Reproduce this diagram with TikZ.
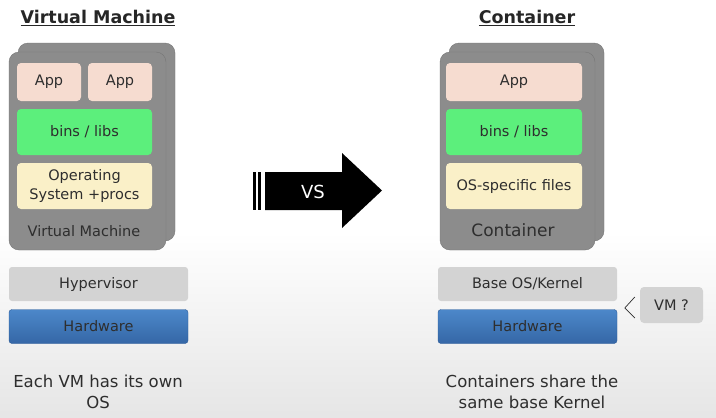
\documentclass[tikz,border=0pt]{standalone}
\usepackage{fontspec}
\setmainfont{DejaVu Sans}
\usetikzlibrary{positioning}
\definecolor{cardgray}{HTML}{8C8C8C}
\definecolor{cardedge}{HTML}{767676}
\definecolor{apppink}{HTML}{F6DCD0}
\definecolor{libgreen}{HTML}{5CEF7C}
\definecolor{osyellow}{HTML}{FAF0C8}
\definecolor{hypgray}{HTML}{D3D3D3}
\definecolor{hwtop}{HTML}{4C88CA}
\definecolor{hwbot}{HTML}{3566A6}
\definecolor{hwedge}{HTML}{2D5C98}
\definecolor{txt}{HTML}{2E2E2E}

\begin{document}
\begin{tikzpicture}[x=1pt, y=-1pt, font=\fontsize{14.5}{17}\selectfont, text=txt]

	\tikzstyle{card}=[rectangle, rounded corners=10pt, draw=cardedge, fill=cardgray, minimum width=157pt, minimum height=198pt, inner sep=0pt]
	\tikzstyle{layer}=[rectangle, rounded corners=4pt, inner sep=0pt, align=center]
	\tikzstyle{app}=[layer, fill=apppink, minimum height=38pt]
	\tikzstyle{libs}=[layer, fill=libgreen, minimum width=135pt, minimum height=46pt]
	\tikzstyle{os}=[layer, fill=osyellow, minimum width=135pt, minimum height=46pt]
	\tikzstyle{base}=[layer, rounded corners=3pt, minimum width=179pt, minimum height=34pt]
	\tikzstyle{hyp}=[base, fill=hypgray]
	\tikzstyle{hw}=[base, draw=hwedge, top color=hwtop, bottom color=hwbot]
	\tikzstyle{title}=[font=\fontsize{17.5}{20}\selectfont\bfseries, text=black!85]
	\tikzstyle{note}=[align=center, font=\fontsize{16.5}{21}\selectfont]

	% fond
	\useasboundingbox (0,0) rectangle (716,418);
	\fill[white] (0,0) rectangle (716,418);
	\shade[top color=white, bottom color=black!10] (0,232) rectangle (716,418);

	% Virtual Machine
	\node[title] (vmtitle) at (98,18) {\underline{Virtual Machine}};
	\node[card] (vmback) at (96.5,142) {};
	\node[card] (vmcard) at (87.5,151) {};
	\node[app, minimum width=64pt] (app1) at (49,82) {App};
	\node[app, minimum width=64pt] (app2) at (120,82) {App};
	\node[libs] (vmlibs) at (84.5,132) {bins / libs};
	\node[os, font=\fontsize{14.5}{18.5}\selectfont] (vmos) at (84.5,186) {Operating\\System +procs};
	\node (vmlabel) at (84,231) {Virtual Machine};
	\node[hyp] (hyper) at (98.5,284) {Hypervisor};
	\node[hw] (vmhw) at (98.5,326.5) {Hardware};
	\node[note] (vmnote) at (98,392) {Each VM has its own\\OS};

	% fleche VS
	\fill[black] (253,172) rectangle (256,210);
	\fill[black] (258,172) rectangle (261,210);
	\fill[black] (265,172) -- (342,172) -- (342,153) -- (382,190.5) -- (342,228) -- (342,210) -- (265,210) -- cycle;
	\node[text=white, font=\fontsize{18}{20}\selectfont] (vs) at (313,192) {VS};

	% Container
	\node[title] (cttitle) at (527,18) {\underline{Container}};
	\node[card, minimum width=155pt] (ctback) at (526.5,142) {};
	\node[card, minimum width=155pt] (ctcard) at (517.5,151) {};
	\node[app, minimum width=136pt] (ctapp) at (514,82) {App};
	\node[libs, minimum width=136pt] (ctlibs) at (514,132) {bins / libs};
	\node[os, minimum width=136pt] (ctos) at (514,186) {OS-specific files};
	\node[font=\fontsize{17}{20}\selectfont] (ctlabel) at (513,230) {Container};
	\node[hyp] (kernel) at (527.5,284) {Base OS/Kernel};
	\node[hw] (cthw) at (527.5,326.5) {Hardware};
	\node[hyp, minimum width=63pt, minimum height=36pt, rounded corners=4pt] (vmq) at (671.5,305) {VM ?};
	\draw[txt, line width=0.7pt] ([shift={(-5,-8)}]vmq.west) -- ([shift={(-15,3)}]vmq.west) -- ([shift={(-5,13)}]vmq.west);
	\node[note] (ctnote) at (532,392) {Containers share the\\same base Kernel};

\end{tikzpicture}
\end{document}
